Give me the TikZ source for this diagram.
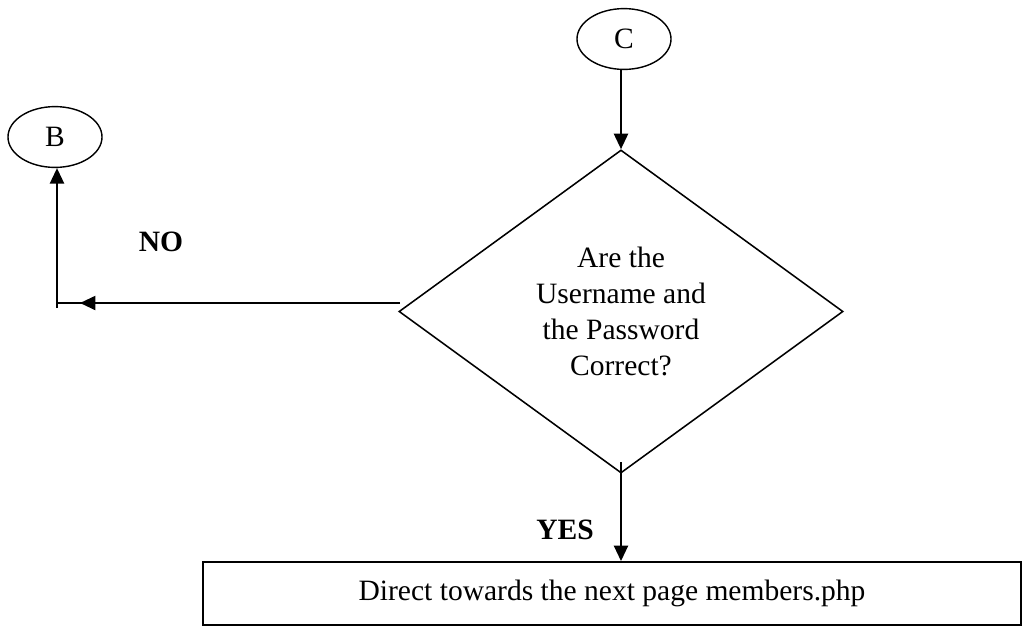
\documentclass[tikz,border=0pt]{standalone}
\usepackage{fontspec}
\setmainfont{Liberation Serif}
\usetikzlibrary{shapes.geometric, positioning, arrows.meta}

\begin{document}
\begin{tikzpicture}[x=0.025cm, y=-0.025cm, >={Triangle[length=11pt, width=10pt]},
    font=\fontsize{21}{25.6}\selectfont,
    term/.style={ellipse, draw, line width=1pt, minimum width=2.35cm, minimum height=1.52cm, inner sep=0pt},
    decision/.style={diamond, draw, line width=1.1pt, minimum width=11.1cm, minimum height=8.075cm, inner sep=0pt, align=center},
    process/.style={rectangle, draw, line width=1.3pt, minimum width=20.45cm, minimum height=1.575cm},
    flow/.style={->, line width=1.5pt},
    branch/.style={font=\fontsize{21}{25}\selectfont\bfseries}]
    % Canvas: 1024 x 626
    \useasboundingbox (0,0) rectangle (1024,626);

    % Nodes
    \node[term] (C) at (624,39) {C};
    \node[decision] (check) at (621,311.5) {Are the\\Username and\\the Password\\Correct?};
    \node[term] (B) at (55,137) {B};
    \node[process] (members) at (612,593.5) {Direct towards the next page members.php};

    % Branch labels
    \node[branch] (no) at (161,242) {NO};
    \node[branch] (yes) at (565,530) {YES};

    % Helper points for the NO branch
    \coordinate (noStart) at (400,303);
    \coordinate (noArrow) at (150,303);
    \coordinate (noTip) at (80,303);
    \coordinate (noCorner) at (57,303);
    \coordinate (noFoot) at (57,308);
    \coordinate (yesStart) at (621,462);

    % Connectors
    \draw[flow] (C.south -| check.north) -- (check.north);
    \draw[line width=1.1pt] (noStart) -- (noCorner);
    \draw[flow] (noArrow) -- (noTip);
    \draw[flow] (noFoot) -- (noFoot |- B.south);
    \draw[flow] (yesStart) -- (yesStart |- members.north);

\end{tikzpicture}
\end{document}
